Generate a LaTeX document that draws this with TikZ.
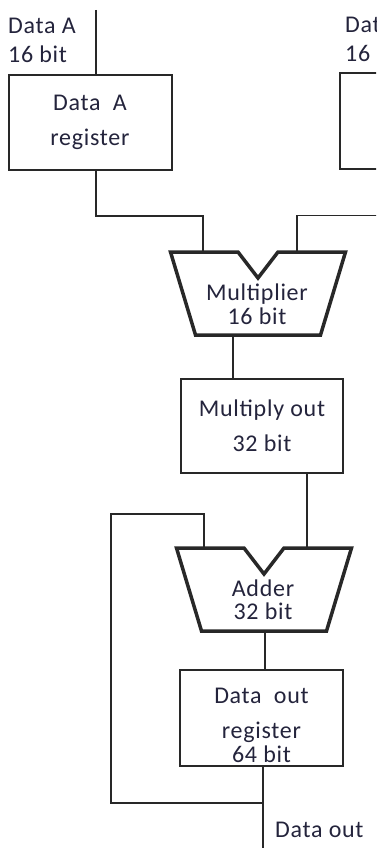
\documentclass[tikz,border=0pt]{standalone}
\usepackage{fontspec}
\setmainfont[LetterSpace=3]{Carlito}
\usetikzlibrary{positioning}

\definecolor{labelcol}{RGB}{36,36,60}
\definecolor{linecol}{RGB}{40,40,40}

\begin{document}
\begin{tikzpicture}[x=1pt,y=-1pt,
  every node/.style={text=labelcol,font=\fontsize{24}{29}\selectfont},
  reg/.style={draw=linecol,line width=2pt,minimum width=163pt,minimum height=95pt,align=center,inner sep=0pt},
  wire/.style={draw=linecol,line width=1.8pt},
  alu/.pic={\draw[linecol,line width=3.5pt,line join=miter] (-87.5,-41.5) -- (-20,-41.5) -- (0,-15.5) -- (20,-41.5) -- (87.5,-41.5) -- (62.5,41.5) -- (-62.5,41.5) -- cycle;}]
\useasboundingbox (0,0) rectangle (376,848);
\clip (0,0) rectangle (376,848);

% registers
\node[reg] (regA) at (90,122.5) {Data\ \ A\\[6pt]register};
\node[reg] (regB) at (421,121) {};
\node[reg,minimum width=162pt,minimum height=94pt] (mulOut) at (262,426) {Multiply out\\[6pt]32 bit};
\node[reg,minimum height=96pt] (outReg) at (261.5,718) {\rule{0pt}{31pt}Data\ \ out\\[6pt]register\\[-5pt]64 bit};

% input / output labels
\node[anchor=west,align=left,inner sep=0pt] (lblA) at (8,40) {Data A\\16 bit};
\node[anchor=west,align=left,inner sep=0pt] (lblB) at (345,39) {Data B\\16 bit};
\node[anchor=west,inner sep=0pt] (lblOut) at (275,830) {Data out};

% wire ends
\coordinate (inA) at (96,10);
\coordinate (inB) at (421,10);
\coordinate (mulInA) at (203,252);
\coordinate (mulInB) at (297,252);
\coordinate (mulOutPt) at (233,335);
\coordinate (addInA) at (204,548);
\coordinate (addInB) at (307,548);
\coordinate (addOutPt) at (265,631);
\coordinate (dataOut) at (263,848);
\coordinate (fb) at (111,803);

% wires
\draw[wire] (inA) -- (inA |- regA.north);
\draw[wire] (inA |- regA.south) -- ++(0,45) -| (mulInA);
\draw[wire] (inB) -- (regB.north);
\draw[wire] (regB.south) -- ++(0,46) -| (mulInB);
\draw[wire] (mulOutPt) -- (mulOutPt |- mulOut.north);
\draw[wire] (addInB |- mulOut.south) -- (addInB);
\draw[wire] (addOutPt) -- (addOutPt |- outReg.north);
\draw[wire] (dataOut |- outReg.south) -- (dataOut);
\draw[wire] (dataOut |- fb) -- (fb) -- ++(0,-289) -| (addInA);

% multiplier and adder
\pic at (258,293.5) {alu};
\node[align=center] (mul) at (257,304) {Multiplier\\[-5pt]16 bit};
\pic at (264,589.5) {alu};
\node[align=center] (add) at (263,600) {Adder\\[-6pt]32 bit};
\end{tikzpicture}
\end{document}
